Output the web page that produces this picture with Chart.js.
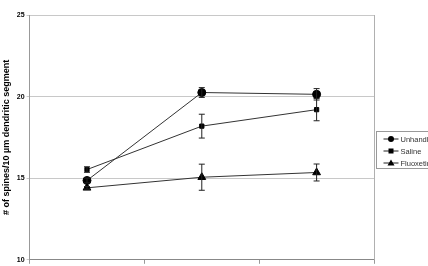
<!DOCTYPE html>
<html>
<head>
<meta charset="utf-8">
<script src="https://cdn.jsdelivr.net/npm/chart.js@4"></script>
<style>
  html, body { margin: 0; padding: 0; background: #fff; }
  #wrap { width: 428px; height: 266px; position: relative; }
</style>
</head>
<body>
<div id="wrap"><canvas id="spineChart"></canvas></div>
<script>
// Spine density per group
const groups = ["1", "2", "3"];
const seriesNames = ["Unhandled", "Saline", "Fluoxetine"];
const unhandled = [14.86, 20.25, 20.14];
const unhandledErr = [0.15, 0.3, 0.35];
const saline = [15.53, 18.19, 19.2];
const salineErr = [0.17, 0.73, 0.68];
const fluoxetine = [14.41, 15.06, 15.35];
const fluoxetineErr = [0.08, 0.8, 0.52];
const yTicks = [10, 15, 20, 25];

// Error bars drawn from the y scale
const errorBars = {
  id: "errorBars",
  afterDatasetsDraw(chart) {
    const ctx = chart.ctx;
    const y = chart.scales.y;
    chart.data.datasets.forEach(function (ds, i) {
      const meta = chart.getDatasetMeta(i);
      ds.errors.forEach(function (e, j) {
        const px = meta.data[j].x;
        const top = y.getPixelForValue(ds.data[j] + e);
        const bot = y.getPixelForValue(ds.data[j] - e);
        ctx.save();
        ctx.strokeStyle = "#222";
        ctx.lineWidth = 1;
        ctx.beginPath();
        ctx.moveTo(px, top); ctx.lineTo(px, bot);
        ctx.moveTo(px - 3, top); ctx.lineTo(px + 3, top);
        ctx.moveTo(px - 3, bot); ctx.lineTo(px + 3, bot);
        ctx.stroke();
        ctx.restore();
      });
    });
  }
};

// Right border of the plot area and the boxed legend
const frameAndLegend = {
  id: "frameAndLegend",
  afterDraw(chart) {
    const ctx = chart.ctx;
    const a = chart.chartArea;
    ctx.save();
    ctx.strokeStyle = "#b0b0b0";
    ctx.lineWidth = 1;
    ctx.beginPath();
    ctx.moveTo(Math.round(a.right) + 0.5, a.top);
    ctx.lineTo(Math.round(a.right) + 0.5, a.bottom);
    ctx.stroke();

    const lx = a.right + 2.5, ly = 131.5;
    ctx.strokeStyle = "#999";
    ctx.strokeRect(lx, ly, 60, 37);
    ctx.font = "7.5px 'Liberation Sans', Arial, sans-serif";
    ctx.textBaseline = "middle";
    chart.data.datasets.forEach(function (ds, i) {
      const yy = 139 + i * 12;
      ctx.strokeStyle = "#222";
      ctx.beginPath();
      ctx.moveTo(lx + 7, yy); ctx.lineTo(lx + 22, yy);
      ctx.stroke();
      ctx.fillStyle = "#000";
      const cx = lx + 14.5;
      if (ds.pointStyle === "circle") {
        ctx.beginPath(); ctx.arc(cx, yy, 3, 0, Math.PI * 2); ctx.fill();
      } else if (ds.pointStyle === "rect") {
        ctx.fillRect(cx - 2.5, yy - 2.5, 5, 5);
      } else {
        ctx.beginPath();
        ctx.moveTo(cx, yy - 3.5); ctx.lineTo(cx + 3.5, yy + 2.5); ctx.lineTo(cx - 3.5, yy + 2.5);
        ctx.closePath(); ctx.fill();
      }
      ctx.fillStyle = "#333";
      ctx.fillText(ds.label, lx + 24, yy + 0.5);
    });
    ctx.restore();
  }
};

document.addEventListener("DOMContentLoaded", function () {
  const mk = function (label, data, errors, style, r) {
    return {
      label: label,
      data: data,
      errors: errors,
      borderColor: "#333",
      borderWidth: 1,
      backgroundColor: "#000",
      pointBackgroundColor: "#000",
      pointBorderColor: "#000",
      pointStyle: style,
      pointRadius: r,
      tension: 0,
    };
  };
  new Chart(document.getElementById("spineChart").getContext("2d"), {
    type: "line",
    data: {
      labels: groups,
      datasets: [
        mk(seriesNames[0], unhandled, unhandledErr, "circle", 4),
        mk(seriesNames[1], saline, salineErr, "rect", 3),
        mk(seriesNames[2], fluoxetine, fluoxetineErr, "triangle", 4.5),
      ],
    },
    options: {
      responsive: true,
      maintainAspectRatio: false,
      animation: false,
      layout: { padding: { top: 15, right: 54, bottom: 2, left: 1 } },
      plugins: { legend: { display: false }, tooltip: { enabled: false } },
      scales: {
        x: {
          offset: true,
          grid: { offset: true, drawOnChartArea: false, drawTicks: true, tickLength: 4, color: "#999" },
          border: { color: "#888" },
          ticks: { display: false },
        },
        y: {
          min: 10,
          max: 25,
          afterBuildTicks: function (axis) {
            axis.ticks = yTicks.map(function (v) { return { value: v }; });
          },
          grid: { color: "#c8c8c8", drawTicks: true, tickLength: 3 },
          border: { color: "#999" },
          ticks: {
            color: "#000",
            padding: 2,
            font: { family: "'Liberation Sans', Arial, sans-serif", size: 7, weight: "bold" },
          },
          title: {
            display: true,
            text: "# of spines/10 \u00b5m dendritic segment",
            color: "#000",
            padding: { top: 0, bottom: 3 },
            font: { family: "'Liberation Sans', Arial, sans-serif", size: 9, weight: "bold" },
          },
        },
      },
    },
    plugins: [errorBars, frameAndLegend],
  });
});
</script>
</body>
</html>
